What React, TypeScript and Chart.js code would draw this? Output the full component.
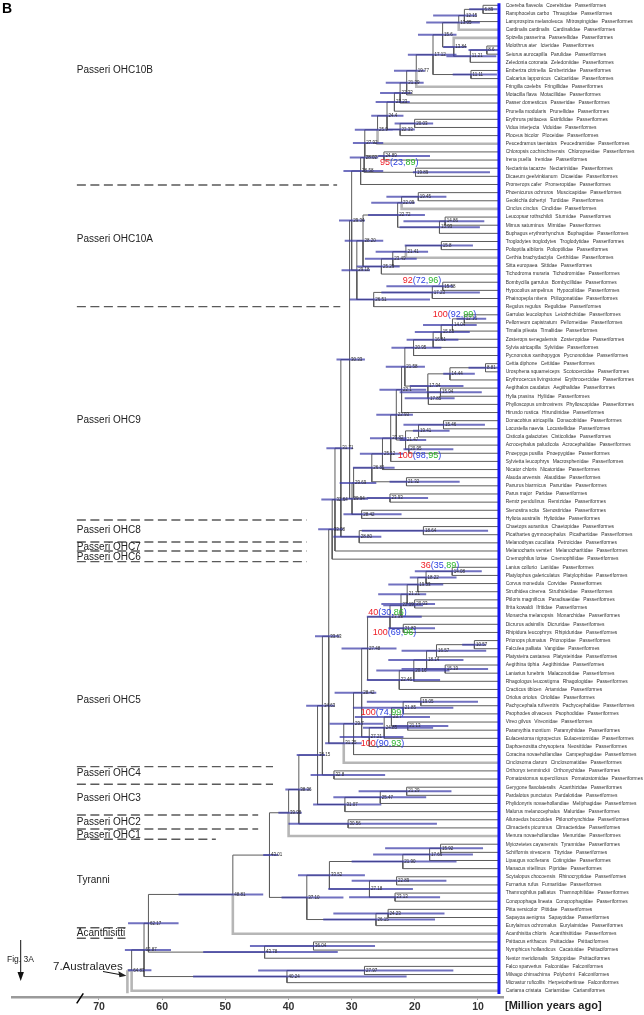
import React, { useEffect, useRef } from "react";
import { Chart, registerables } from "chart.js";

Chart.register(...registerables);

// ---------------- DATA ----------------
const TIP_SPECIES = [
  "Coereba flaveola", "Ramphocelus carbo", "Lamprospiza melanoleuca", "Cardinalis cardinalis",
  "Spizella passerina", "Molothrus ater", "Seiurus aurocapilla", "Zeledonia coronata",
  "Emberiza citrinella", "Calcarius lapponicus", "Fringilla coelebs", "Motacilla flava",
  "Passer domesticus", "Prunella modularis", "Erythrura psittacea", "Vidua interjecta",
  "Ploceus bicolor", "Peucedramus taeniatus", "Chloropsis cochinchinensis", "Irena puella",
  "Nectarinia tacazze", "Dicaeum geelvinkianum", "Promerops cafer", "Phoenicurus ochruros",
  "Geokichla dohertyi", "Cinclus cinclus", "Leucopsar rothschildi", "Mimus saturninus",
  "Buphagus erythrorhynchus", "Troglodytes troglodytes", "Polioptila albiloris", "Certhia brachydactyla",
  "Sitta europaea", "Tichodroma muraria", "Bombycilla garrulus", "Hypocolius ampelinus",
  "Phainopepla nitens", "Regulus regulus", "Garrulax leucolophus", "Pellorneum capistratum",
  "Timalia pileata", "Zosterops senegalensis", "Sylvia atricapilla", "Pycnonotus xanthopygos",
  "Cettia diphone", "Urosphena squameiceps", "Erythrocercus livingstonei", "Aegithalos caudatus",
  "Hylia prasina", "Phylloscopus umbrovirens", "Hirundo rustica", "Donacobius atricapilla",
  "Locustella naevia", "Cisticola galactotes", "Acrocephalus paludicola", "Pnoepyga pusilla",
  "Sylvietta leucophrys", "Nicator chloris", "Alauda arvensis", "Panurus biarmicus",
  "Parus major", "Remiz pendulinus", "Stenostira scita", "Hyliota australis",
  "Chaetops aurantius", "Picathartes gymnocephalus", "Melanodryas cucullata", "Melanocharis versteri",
  "Cnemophilus loriae", "Lanius collurio", "Platylophus galericulatus", "Corvus monedula",
  "Struthidea cinerea", "Ptiloris magnificus", "Ifrita kowaldi", "Monarcha melanopsis",
  "Dicrurus adsimilis", "Rhipidura leucophrys", "Prionops plumatus", "Falculea palliata",
  "Platysteira castanea", "Aegithina tiphia", "Laniarius funebris", "Rhagologus leucostigma",
  "Cracticus tibicen", "Oriolus oriolus", "Pachycephala rufiventris", "Psophodes olivaceus",
  "Vireo gilvus", "Paramythia montium", "Eulacestoma nigropectus", "Daphoenositta chrysoptera",
  "Coracina novaehollandiae", "Cinclosoma clarum", "Orthonyx temminckii", "Pomatostomus superciliosus",
  "Gerygone flavolateralis", "Pardalotus punctatus", "Phylidonyris novaehollandiae", "Malurus melanocephalus",
  "Ailuroedus buccoides", "Climacteris picumnus", "Menura novaehollandiae", "Myiozetetes cayanensis",
  "Schiffornis virescens", "Lipaugus vociferans", "Manacus vitellinus", "Scytalopus chocoensis",
  "Furnarius rufus", "Thamnophilus palliatus", "Conopophaga lineata", "Pitta versicolor",
  "Sapayoa aenigma", "Eurylaimus ochromalus", "Acanthisitta chloris", "Psittacus erithacus",
  "Nymphicus hollandicus", "Nestor meridionalis", "Falco sparverius", "Milvago chimachima",
  "Micrastur ruficollis", "Cariama cristata",
];

const TIP_FAMILY = [
  "Coerebidae", "Thraupidae", "Mitrospingidae", "Cardinalidae", "Passerellidae", "Icteridae",
  "Parulidae", "Zeledoniidae", "Emberizidae", "Calcariidae", "Fringillidae", "Motacillidae",
  "Passeridae", "Prunellidae", "Estrildidae", "Viduidae", "Ploceidae", "Peucedramidae",
  "Chloropseidae", "Irenidae", "Nectariniidae", "Dicaeidae", "Promeropidae", "Muscicapidae",
  "Turdidae", "Cinclidae", "Sturnidae", "Mimidae", "Buphagidae", "Troglodytidae",
  "Polioptilidae", "Certhiidae", "Sittidae", "Tichodromidae", "Bombycillidae", "Hypocoliidae",
  "Ptiliogonatidae", "Regulidae", "Leiothrichidae", "Pellorneidae", "Timaliidae", "Zosteropidae",
  "Sylviidae", "Pycnonotidae", "Cettiidae", "Scotocercidae", "Erythrocercidae", "Aegithalidae",
  "Hyliidae", "Phylloscopidae", "Hirundinidae", "Donacobiidae", "Locustellidae", "Cisticolidae",
  "Acrocephalidae", "Pnoepygidae", "Macrosphenidae", "Nicatoridae", "Alaudidae", "Panuridae",
  "Paridae", "Remizidae", "Stenostiridae", "Hyliotidae", "Chaetopidae", "Picathartidae",
  "Petroicidae", "Melanocharitidae", "Cnemophilidae", "Laniidae", "Platylophidae", "Corvidae",
  "Struthideidae", "Paradisaeidae", "Ifritidae", "Monarchidae", "Dicruridae", "Rhipiduridae",
  "Prionopidae", "Vangidae", "Platysteiridae", "Aegithinidae", "Malaconotidae", "Rhagologidae",
  "Artamidae", "Oriolidae", "Pachycephalidae", "Psophodidae", "Vireonidae", "Paramythiidae",
  "Eulacestomidae", "Neosittidae", "Campephagidae", "Cinclosomatidae", "Orthonychidae", "Pomatostomidae",
  "Acanthizidae", "Pardalotidae", "Meliphagidae", "Maluridae", "Ptilonorhynchidae", "Climacteridae",
  "Menuridae", "Tyrannidae", "Tityridae", "Cotingidae", "Pipridae", "Rhinocryptidae",
  "Furnariidae", "Thamnophilidae", "Conopophagidae", "Pittidae", "Sapayoidae", "Eurylaimidae",
  "Acanthisittidae", "Psittacidae", "Cacatuidae", "Strigopidae", "Falconidae", "Polyborini",
  "Herpetotheriinae", "Cariamidae",
];

// order name, number of consecutive tips
const ORDER_RUNS: [string, number][] = [
  ["Passeriformes", 115],
  ["Psittaciformes", 3],
  ["Falconiformes", 3],
  ["Cariamiformes", 1],
];

// tips sit at this age on the axis (the blue line)
const TIP_AGE = 6.68;

// internal nodes: id, child 1, child 2 (tip numbers are 1-based), age label, 95% HPD low, high, plotted age (if different)
const NODES: [string, number | string, number | string, string, number, number, number?][] = [
  ["A", 1, 2, "6.89", 6.9, 11.4, 9.2],
  ["B", "A", 3, "12.15", 10.2, 17.1],
  ["C", "B", 4, "13.05", 9.7, 18.2],
  ["D", 6, 7, "8.6", 6.6, 11.5],
  ["E", "D", 8, "11.21", 7.1, 15.0],
  ["F", 5, "E", "13.84", 11.8, 15.5],
  ["G", "C", "F", "15.6", 13.4, 19.5],
  ["H", 9, 10, "11.11", 7.0, 14.0],
  ["I", "G", "H", "17.12", 13.4, 21.1],
  ["J", "I", 11, "19.77", 18.4, 23.3],
  ["K", "J", 12, "21.29", 18.6, 24.6],
  ["L", "K", 13, "22.33", 20.5, 25.5],
  ["M", "L", 14, "23.23", 20.8, 26.2],
  ["N", 15, 16, "20.03", 17.1, 23.2],
  ["O", "N", 17, "22.33", 20.0, 24.2],
  ["P", "M", "O", "24.4", 21.8, 26.9],
  ["Q", "P", 18, "25.9", 23.5, 29.5],
  ["Chl", 19, 20, "24.89", 17.6, 25.8],
  ["R", "Q", "Chl", "27.92", 25.0, 29.8],
  ["Nec", 21, 22, "19.89", 8.1, 20.3],
  ["S", "R", "Nec", "28.02", 25.8, 30.3],
  ["T", "S", 23, "28.58", 25.0, 31.3],
  ["a1", 24, 25, "19.45", 15.0, 24.5],
  ["a2", "a1", 26, "22.09", 20.0, 26.9],
  ["a3", 27, 28, "14.86", 9.0, 21.8, 15.2],
  ["a4", "a3", 29, "15.93", 9.7, 22.4, 16.1],
  ["a5", "a2", "a4", "22.72", 18.4, 27.4],
  ["b1", 30, 31, "15.8", 10.8, 21.6],
  ["b2", "b1", 32, "21.41", 17.9, 26.2],
  ["b3", "b2", 33, "23.49", 19.7, 27.9],
  ["b4", "b3", 34, "25.29", 22.4, 29.2],
  ["W", "a5", "b4", "28.20", 25.0, 31.1],
  ["c1", 35, 36, "15.58", 13.9, 24.5],
  ["c2", "c1", 37, "17.23", 9.7, 25.3],
  ["c3", "c2", 38, "26.51", 17.6, 30.3],
  ["V", "W", "c3", "29.18", 27.1, 31.6],
  ["U", "T", "V", "29.34", 27.9, 32.0, 30.0],
  ["s1", 39, 40, "12.16", 8.7, 13.4],
  ["s2", "s1", 41, "14.04", 10.2, 18.7],
  ["s3", "s2", 42, "15.83", 11.3, 20.0],
  ["s4", "s3", 43, "16.61", 13.1, 21.3, 17.1],
  ["s5", "s4", 44, "20.95", 15.8, 23.7, 20.2],
  ["s6", 45, 46, "8.81", 6.5, 11.5],
  ["s7", "s6", 47, "14.44", 10.5, 15.5],
  ["s8", 48, 49, "15.94", 9.4, 22.4],
  ["s9", "s8", 50, "17.85", 13.7, 21.6],
  ["s10", "s7", "s9", "17.94", 12.3, 20.8],
  ["s11", "s5", "s10", "21.58", 18.4, 24.6],
  ["s12", "s11", 51, "22.1", 18.2, 25.6],
  ["L1", 52, 53, "15.46", 8.9, 21.8],
  ["L2", "L1", 54, "19.41", 14.5, 20.3],
  ["P1", 55, 56, "20.95", 13.9, 21.8],
  ["L3", "L2", "P1", "21.47", 18.2, 22.4],
  ["s13", "s12", "L3", "22.93", 20.3, 26.1],
  ["s14", "s13", 57, "23.82", 21.3, 27.1],
  ["s15", "s14", 58, "25.12", 21.8, 28.7],
  ["AP", 59, 60, "21.32", 12.9, 24.0],
  ["s16", "s15", "AP", "26.81", 23.2, 29.8],
  ["PR", 61, 62, "23.93", 17.9, 27.6],
  ["s17", "s16", "PR", "29.69", 26.1, 31.9],
  ["SH", 63, 64, "28.42", 22.1, 31.3],
  ["s18", "s17", "SH", "29.94", 27.4, 31.5],
  ["n3033", "U", "s18", "30.33", 27.9, 32.4],
  ["e1", 65, 66, "18.64", 8.4, 28.4],
  ["e2", "e1", 67, "28.80", 25.3, 32.9],
  ["n3171", "n3033", "e2", "31.71", 29.8, 34.0],
  ["n3264", "n3171", 68, "32.64", 30.8, 34.8],
  ["n3308", "n3264", 69, "33.08", 31.3, 35.3],
  ["k1", 70, 71, "14.08", 9.4, 20.0],
  ["k2", "k1", 72, "18.22", 13.4, 20.8],
  ["k3", "k2", 73, "19.53", 15.5, 24.2],
  ["k4", 74, 75, "20.03", 16.8, 25.3],
  ["k5", "k3", "k4", "21.21", 18.2, 25.8],
  ["k6", "k5", 76, "22.19", 18.7, 25.0],
  ["k7", 77, 78, "21.83", 16.8, 24.2],
  ["k8", "k6", "k7", "23.93", 18.9, 27.6],
  ["m1", 79, 80, "10.57", 8.7, 12.5],
  ["m2", "m1", 81, "16.57", 8.7, 22.1],
  ["m3", 82, 83, "15.19", 8.4, 22.1],
  ["m4", "m2", "m3", "18.14", 12.3, 24.2],
  ["m5", "m4", 84, "20.16", 14.5, 26.1],
  ["m6", "m5", 85, "22.46", 16.0, 27.6],
  ["k9", "k8", "m6", "27.48", 22.9, 31.6],
  ["o1", 86, 87, "19.05", 10.0, 27.6],
  ["o2", "o1", 88, "21.85", 13.9, 29.8],
  ["o3", 89, 90, "21.13", 14.7, 23.5],
  ["o4", "o2", "o3", "23.7", 17.6, 29.5],
  ["o5", "o4", 91, "24.85", 17.1, 28.2],
  ["o6", "o5", 92, "27.21", 21.8, 31.9],
  ["k10", "k9", "o6", "28.42", 26.1, 32.7],
  ["k11", "k10", 93, "29.7", 25.0, 33.5],
  ["k12", "k11", 94, "31.25", 28.4, 34.2],
  ["n3363", "n3308", "k12", "33.63", 31.9, 35.8],
  ["h1", 95, 96, "32.8", 24.7, 36.5],
  ["n3463", "n3363", "h1", "34.63", 32.7, 37.2],
  ["g1", 97, 98, "21.29", 14.2, 28.9],
  ["g2", "g1", 99, "25.47", 18.2, 32.9],
  ["g3", "g2", 100, "31.07", 25.3, 36.1],
  ["n3815", "n3463", "g3", "38.15", 34.2, 38.7, 35.4],
  ["z1", 101, 102, "30.56", 16.5, 40.0],
  ["n3836", "n3815", "z1", "38.36", 36.5, 40.5],
  ["n3998", "n3836", 103, "39.98", 37.9, 41.6],
  ["t1", 104, 105, "15.92", 9.2, 24.7],
  ["t2", "t1", 106, "17.66", 10.8, 26.6],
  ["t3", "t2", 107, "21.90", 13.4, 30.0],
  ["t4", 108, 109, "22.89", 15.0, 30.0],
  ["t5", 110, 111, "23.13", 16.0, 30.4],
  ["t6", "t4", "t5", "27.18", 20.3, 33.7],
  ["t7", "t3", "t6", "33.52", 27.9, 38.5],
  ["t8", 112, 113, "24.23", 15.3, 32.9],
  ["t9", "t8", 114, "26.15", 16.8, 34.5],
  ["t10", "t7", "t9", "37.10", 31.3, 41.1],
  ["n4301", "n3998", "t10", "43.01", 41.6, 44.0],
  ["n4881", "n4301", 115, "48.81", 44.0, 57.4],
  ["p1", 116, 117, "36.04", 26.3, 46.1],
  ["p2", "p1", 118, "43.78", 32.2, 53.5],
  ["n6217", "n4881", "p2", "62.17", 57.4, 65.4],
  ["f1", 119, 120, "27.97", 13.9, 44.8],
  ["f2", "f1", 121, "40.24", 21.3, 55.1],
  ["n6287", "n6217", "f2", "62.87", 58.6, 65.9],
  ["root", "n6287", 122, "64.83", 61.7, 65.4],
];

// branches drawn in the light, thick grey
const LIGHT_BRANCHES: (number | string)[] = [4, 5, 11, 18, 26, 32, 94, 103, 115, 122];
const ROOT_STEM_AGE = 65.5;
const ROOT_STEM_END_ROW = 121.3;

// support labels: PP, (bootstrap a, bootstrap b), anchored at age, row
const SUPPORT: [number, number, number, number, number][] = [
  [95, 23, 89, 25.5, 19.33],
  [92, 72, 96, 21.9, 33.81],
  [100, 92, 99, 17.17, 37.94],
  [100, 98, 95, 22.71, 55.33],
  [36, 35, 89, 19.07, 68.8],
  [40, 30, 86, 27.37, 74.57],
  [100, 69, 96, 26.67, 77.03],
  [100, 74, 99, 28.57, 86.85],
  [100, 90, 93, 28.57, 90.69],
];

// clade labels: name, row
const CLADES: [string, number][] = [
  ["Passeri OHC10B", 7.94],
  ["Passeri OHC10A", 28.7],
  ["Passeri OHC9", 50.9],
  ["Passeri OHC8", 64.4],
  ["Passeri OHC7", 66.5],
  ["Passeri OHC6", 67.8],
  ["Passeri OHC5", 85.3],
  ["Passeri OHC4", 94.29],
  ["Passeri OHC3", 97.36],
  ["Passeri OHC2", 100.3],
  ["Passeri OHC1", 101.95],
  ["Tyranni", 107.4],
  ["Acanthisitti", 113.9],
];
const CLADE_LABEL_AGE = 73.5;
// dashed separators: row, end age
const SEPARATORS: [number, number][] = [
  [22.06, 32.3],
  [37.0, 31.8],
  [63.2, 37.1],
  [65.9, 37.1],
  [67.0, 37.1],
  [68.3, 37.1],
  [93.48, 42.45],
  [95.64, 42.45],
  [99.41, 44.8],
  [101.13, 44.8],
  [102.39, 51.5],
  [113.25, 65.8],
  [114.55, 65.8],
];

const AXIS_TICKS = [70, 60, 50, 40, 30, 20, 10];
const X_MIN = 6.04;
const X_MAX = 83.77;
const ROW_MIN = -0.651;
const ROW_MAX = 121.76;

// ---------------- BUILD ----------------
type TNode = { id: string; kids: (number | string)[]; label: string; age: number; lo: number; hi: number; row: number };
const nodeIndex: Record<string, TNode> = {};
const nodeList: TNode[] = [];
const rowOf = (r: number | string) => (typeof r === "number" ? r - 1 : nodeIndex[r].row);
const ageOf = (r: number | string) => (typeof r === "number" ? TIP_AGE : nodeIndex[r].age);
for (const [id, a, b, label, lo, hi, plotAge] of NODES) {
  const n: TNode = {
    id, kids: [a, b], label, lo, hi,
    age: plotAge ?? parseFloat(label),
    row: (rowOf(a) + rowOf(b)) / 2,
  };
  nodeIndex[id] = n;
  nodeList.push(n);
}
const TIP_ORDER: string[] = [];
for (const [name, count] of ORDER_RUNS) for (let i = 0; i < count; i++) TIP_ORDER.push(name);

type P = { x: number | null; y: number | null };
const GAP: P = { x: null, y: null };
const darkBranches: P[] = [];
const lightBranches: P[] = [];
for (const n of nodeList) {
  for (const k of n.kids) {
    const target = LIGHT_BRANCHES.includes(k) ? lightBranches : darkBranches;
    target.push({ x: n.age, y: n.row }, { x: n.age, y: rowOf(k) }, { x: ageOf(k), y: rowOf(k) }, GAP);
  }
}
const rootNode = nodeIndex["root"];
lightBranches.push(
  { x: rootNode.age, y: rootNode.row }, { x: ROOT_STEM_AGE, y: rootNode.row }, GAP,
  { x: ROOT_STEM_AGE, y: rootNode.row }, { x: ROOT_STEM_AGE, y: ROOT_STEM_END_ROW }, GAP
);
const hpdBars: P[] = [];
for (const n of nodeList) hpdBars.push({ x: n.lo, y: n.row }, { x: n.hi, y: n.row }, GAP);
const tipLine: P[] = [{ x: TIP_AGE, y: -0.25 }, { x: TIP_AGE, y: 121.4 }];
const dashed: P[] = [];
for (const [row, end] of SEPARATORS) dashed.push({ x: CLADE_LABEL_AGE, y: row }, { x: end, y: row }, GAP);

const FONT = '"Liberation Sans", Arial, sans-serif';

const textPlugin = {
  id: "treeText",
  afterDraw(chart: any) {
    const { ctx } = chart;
    const xs = chart.scales.x;
    const ys = chart.scales.y;
    const px = (a: number) => xs.getPixelForValue(a);
    const py = (r: number) => ys.getPixelForValue(r);
    ctx.save();
    ctx.textBaseline = "middle";
    ctx.textAlign = "left";

    // node age labels
    ctx.font = `4.5px ${FONT}`;
    ctx.fillStyle = "#2a2a2a";
    for (const n of nodeList) ctx.fillText(n.label, px(n.age) + 1.5, py(n.row));

    // tip labels: species, family, order
    ctx.font = `4.9px ${FONT}`;
    ctx.fillStyle = "#333";
    const tx = px(TIP_AGE) + 6.7;
    TIP_SPECIES.forEach((s, i) => {
      let x = tx;
      const y = py(i);
      for (const t of [s, TIP_FAMILY[i], TIP_ORDER[i]]) {
        ctx.fillText(t, x, y);
        x += ctx.measureText(t).width + 3.5;
      }
    });

    // support labels
    ctx.font = `9px ${FONT}`;
    for (const [pp, b1, b2, age, row] of SUPPORT) {
      let x = px(age);
      const y = py(row);
      const parts: [string, string][] = [
        [String(pp), "#ee1c24"],
        [`(${b1},`, "#2b3fe0"],
        [String(b2), "#2cb52c"],
        [")", "#2b3fe0"],
      ];
      for (const [t, c] of parts) {
        ctx.fillStyle = c;
        ctx.fillText(t, x, y);
        x += ctx.measureText(t).width;
      }
    }

    // clade labels
    ctx.font = `10px ${FONT}`;
    ctx.fillStyle = "#222";
    for (const [name, row] of CLADES) ctx.fillText(name, px(CLADE_LABEL_AGE), py(row));

    // panel letter
    ctx.font = `bold 14px ${FONT}`;
    ctx.fillStyle = "#000";
    ctx.fillText("B", 2, 9);

    // Fig. 3A with arrow
    ctx.font = `8.5px ${FONT}`;
    ctx.fillStyle = "#222";
    ctx.fillText("Fig. 3A", 7, 960);
    ctx.strokeStyle = "#111";
    ctx.lineWidth = 1;
    ctx.beginPath();
    ctx.moveTo(20.7, 940);
    ctx.lineTo(20.7, 974);
    ctx.stroke();
    ctx.beginPath();
    ctx.moveTo(17.5, 972);
    ctx.lineTo(23.9, 972);
    ctx.lineTo(20.7, 981);
    ctx.closePath();
    ctx.fillStyle = "#111";
    ctx.fill();

    // 7.Australaves with arrow to the root
    ctx.font = `11.5px ${FONT}`;
    ctx.fillStyle = "#222";
    ctx.fillText("7.Australaves", 53, 966.5);
    const ax = px(ROOT_STEM_AGE) - 1;
    const ay = py(rootNode.row) + 5.5;
    ctx.beginPath();
    ctx.moveTo(103, 971.5);
    ctx.lineTo(ax - 5, ay - 1);
    ctx.stroke();
    ctx.beginPath();
    ctx.moveTo(ax, ay);
    ctx.lineTo(ax - 8, ay - 4.5);
    ctx.lineTo(ax - 7, ay + 1.5);
    ctx.closePath();
    ctx.fill();

    // axis break mark
    ctx.strokeStyle = "#000";
    ctx.lineWidth = 1.5;
    ctx.beginPath();
    ctx.moveTo(76.7, 1003.3);
    ctx.lineTo(83.3, 993.3);
    ctx.stroke();

    // axis title
    ctx.font = `bold 11px ${FONT}`;
    ctx.fillStyle = "#222";
    ctx.fillText("[Million years ago]", chart.chartArea.right + 2, 1006);

    ctx.restore();
  },
};

export default function App() {
  const ref = useRef<HTMLCanvasElement | null>(null);
  useEffect(() => {
    if (!ref.current) return;
    const line = (data: P[], color: string, width: number, order: number, dash?: number[]) => ({
      data,
      showLine: true,
      borderColor: color,
      borderWidth: width,
      borderDash: dash ?? [],
      pointRadius: 0,
      pointHoverRadius: 0,
      spanGaps: false,
      fill: false,
      tension: 0,
      order,
      borderCapStyle: "butt",
    });
    const chart = new Chart(ref.current, {
      type: "scatter",
      data: {
        datasets: [
          line(dashed, "#5a5a5a", 1.4, 7, [9, 4.5]) as any,
          line(lightBranches, "#b6b6b6", 2.6, 6) as any,
          line(darkBranches, "#5c5c5c", 1, 5) as any,
          line(hpdBars, "rgba(58,58,168,0.72)", 2, 3) as any,
          line(tipLine, "#1414f0", 3, 1) as any,
        ],
      },
      options: {
        responsive: false,
        maintainAspectRatio: false,
        animation: false,
        events: [],
        layout: { padding: { left: 12, right: 141, top: 0, bottom: 0 } },
        plugins: { legend: { display: false }, tooltip: { enabled: false } },
        scales: {
          x: {
            type: "linear",
            reverse: true,
            min: X_MIN,
            max: X_MAX,
            afterBuildTicks: (s: any) => {
              s.ticks = AXIS_TICKS.map((v) => ({ value: v }));
            },
            afterFit: (s: any) => {
              s.height = 18;
            },
            ticks: {
              font: { family: "Liberation Sans", size: 10.5, weight: "bold" },
              color: "#333",
              padding: 1,
              maxRotation: 0,
              autoSkip: false,
            },
            grid: { display: true, drawOnChartArea: false, drawTicks: true, tickLength: 3, color: "#999" },
            border: { display: true, color: "#9a9a9a", width: 2.5 },
          },
          y: { type: "linear", reverse: true, min: ROW_MIN, max: ROW_MAX, display: false },
        },
      } as any,
      plugins: [textPlugin as any],
    });
    return () => chart.destroy();
  }, []);
  return (
    <div style={{ position: "absolute", left: 0, top: 0, width: 644, height: 1015, background: "#fff" }}>
      <canvas ref={ref} width={644} height={1015} />
    </div>
  );
}
